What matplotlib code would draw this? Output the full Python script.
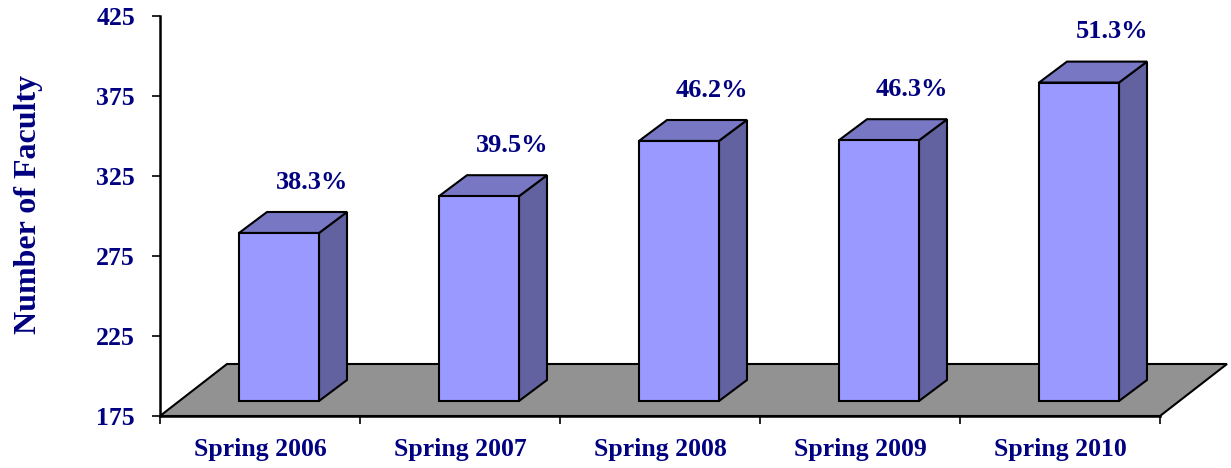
import matplotlib
matplotlib.use("Agg")
import matplotlib.pyplot as plt
from matplotlib.patches import Polygon

# data
terms = ["Spring 2006", "Spring 2007", "Spring 2008", "Spring 2009", "Spring 2010"]
faculty = [280, 303, 337.5, 338, 374]
pct_labels = ["38.3%", "39.5%", "46.2%", "46.3%", "51.3%"]
y_ticks = [175, 225, 275, 325, 375, 425]

navy = "#000080"
front_col = "#9999FF"
top_col = "#7777C4"
side_col = "#6262A0"
floor_col = "#929292"

plt.rcParams["font.family"] = ["Liberation Serif", "DejaVu Serif"]
plt.rcParams["font.weight"] = "bold"

fig = plt.figure(figsize=(12.31, 4.68), dpi=100)
ax = fig.add_axes([160 / 1231, 52 / 468, 1000 / 1231, 400 / 468])
ymin, ymax = 175, 425
ax.set_xlim(0, len(terms))
ax.set_ylim(ymin, ymax)

# 3d offsets (in data units)
floor_dx, floor_dy = 0.335, 32.5
front_dx, front_dy = 0.095, 9.4
bar_dx, bar_dy = 0.14, 13.1
bar_w = 0.4

# floor
floor = Polygon([(0, ymin), (len(terms), ymin),
                 (len(terms) + floor_dx, ymin + floor_dy), (floor_dx, ymin + floor_dy)],
                closed=True, facecolor=floor_col, edgecolor="black", lw=1.5,
                clip_on=False, zorder=1)
ax.add_patch(floor)

for i, (v, lab) in enumerate(zip(faculty, pct_labels)):
    x0 = i + 0.5 - bar_w / 2 + front_dx
    x1 = x0 + bar_w
    b = ymin + front_dy
    t = v + front_dy
    kw = dict(closed=True, edgecolor="black", lw=1.5, clip_on=False, zorder=3,
              joinstyle="miter")
    ax.add_patch(Polygon([(x1, b), (x1 + bar_dx, b + bar_dy),
                          (x1 + bar_dx, t + bar_dy), (x1, t)], facecolor=side_col, **kw))
    ax.add_patch(Polygon([(x0, t), (x1, t), (x1 + bar_dx, t + bar_dy),
                          (x0 + bar_dx, t + bar_dy)], facecolor=top_col, **kw))
    ax.add_patch(Polygon([(x0, b), (x1, b), (x1, t), (x0, t)], facecolor=front_col, **kw))
    ax.text(i + 0.5 + 0.26, v + 41, lab, ha="center", va="center",
            fontsize=19, fontweight="bold", color=navy, zorder=5)

for s in ["top", "right"]:
    ax.spines[s].set_visible(False)
for s in ["left", "bottom"]:
    ax.spines[s].set_linewidth(1.8)
    ax.spines[s].set_zorder(4)

ax.set_yticks(y_ticks)
ax.set_yticklabels([str(t) for t in y_ticks])
ax.set_xticks(range(len(terms) + 1))
ax.set_xticklabels([])
ax.set_xticks([i + 0.5 for i in range(len(terms))], minor=True)
ax.set_xticklabels(terms, minor=True)
ax.tick_params(axis="x", which="minor", length=0, pad=16, labelsize=18.5, labelcolor=navy)
ax.tick_params(axis="x", which="major", length=6, width=1.2, direction="out")
ax.tick_params(axis="y", length=6, width=1.2, pad=12, labelsize=18.5, labelcolor=navy)
for lbl in ax.get_xticklabels(minor=True) + ax.get_yticklabels():
    lbl.set_fontweight("bold")

ax.set_ylabel("Number of Faculty", fontsize=23, fontweight="bold", color=navy)
ax.yaxis.set_label_coords(-0.117, 0.53)

fig.savefig("out.png", dpi=100)
